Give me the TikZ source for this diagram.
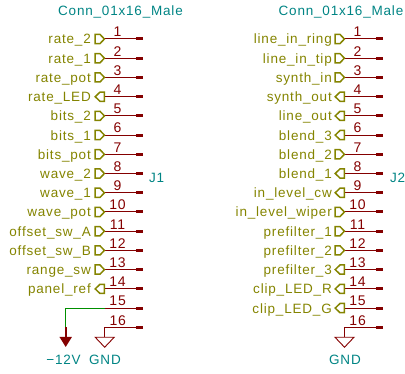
\documentclass[tikz,border=0pt]{standalone}
\usepackage{fontspec}
\setmainfont{Liberation Sans}[LetterSpace=6]
\usetikzlibrary{arrows.meta,shapes.geometric}
\definecolor{netcol}{HTML}{848400}
\definecolor{wirecol}{HTML}{840000}
\definecolor{refcol}{HTML}{008484}
\definecolor{busgreen}{HTML}{008F00}
\pgfdeclarelayer{nodelayer}
\pgfdeclarelayer{edgelayer}
\pgfsetlayers{edgelayer,nodelayer,main}
\tikzstyle{reftext}=[text=refcol, inner sep=0, font=\fontsize{13.5}{15}\selectfont]
\tikzstyle{net}=[text=netcol, inner sep=0, anchor=base east, font=\fontsize{13.5}{15}\selectfont]
\tikzstyle{flag line}=[draw=netcol, line width=1.5]
\tikzstyle{pin end}=[fill=wirecol, minimum width=7, minimum height=3, inner sep=0]
\tikzstyle{wire}=[draw=wirecol, line width=1]
\tikzstyle{num}=[text=wirecol, above, pos=0.42, inner xsep=0, inner ysep=1.6, text height=10, text depth=0, font=\fontsize{14}{15}\selectfont]
\tikzstyle{gnd}=[draw=wirecol, line width=0.9, shape=isosceles triangle, shape border rotate=-90, isosceles triangle apex angle=87, minimum height=10, inner sep=0]
\tikzset{
	flag in/.pic={\draw [style=flag line] (-4.8, -4.6) -- (0, -4.6) -- (4.4, 0) -- (0, 4.6) -- (-4.8, 4.6) -- cycle;
		\coordinate (-east) at (4.4, 0);},
	flag out/.pic={\draw [style=flag line] (4.4, -4.6) -- (0, -4.6) -- (-4.8, 0) -- (0, 4.6) -- (4.4, 4.6) -- cycle;
		\coordinate (-east) at (4.4, 0);}
}
\begin{document}
\begin{tikzpicture}[x=1pt, y=-1pt]
	\useasboundingbox (0, 0) rectangle (405, 374);
	\begin{pgfonlayer}{nodelayer}
		\node [style=reftext, anchor=base] (title1) at (120.5, 15.6) {Conn\_01x16\_Male};
		\node [style=reftext, anchor=base] (title2) at (341, 15.6) {Conn\_01x16\_Male};
		\node [style=reftext, anchor=base west] (j1) at (149, 183) {J1};
		\node [style=reftext, anchor=base west] (j2) at (390, 183) {J2};
		\node [style=net] (na1) at (91, 44) {rate\_2};
		\node [style=net] (na2) at (91, 63.2) {rate\_1};
		\node [style=net] (na3) at (91, 82.4) {rate\_pot};
		\node [style=net] (na4) at (91, 101.7) {rate\_LED};
		\node [style=net] (na5) at (91, 120.9) {bits\_2};
		\node [style=net] (na6) at (91, 140.1) {bits\_1};
		\node [style=net] (na7) at (91, 159.3) {bits\_pot};
		\node [style=net] (na8) at (91, 178.5) {wave\_2};
		\node [style=net] (na9) at (91, 197.8) {wave\_1};
		\node [style=net] (na10) at (91, 217) {wave\_pot};
		\node [style=net] (na11) at (91, 236.2) {offset\_sw\_A};
		\node [style=net] (na12) at (91, 255.4) {offset\_sw\_B};
		\node [style=net] (na13) at (91, 274.6) {range\_sw};
		\node [style=net] (na14) at (91, 293.9) {panel\_ref};
		\pic (a1) at (100, 39) {flag in};
		\pic (a2) at (100, 58.2) {flag in};
		\pic (a3) at (100, 77.4) {flag in};
		\pic (a4) at (100, 96.7) {flag out};
		\pic (a5) at (100, 115.9) {flag in};
		\pic (a6) at (100, 135.1) {flag in};
		\pic (a7) at (100, 154.3) {flag in};
		\pic (a8) at (100, 173.5) {flag in};
		\pic (a9) at (100, 192.8) {flag in};
		\pic (a10) at (100, 212) {flag in};
		\pic (a11) at (100, 231.2) {flag in};
		\pic (a12) at (100, 250.4) {flag in};
		\pic (a13) at (100, 269.6) {flag in};
		\pic (a14) at (100, 288.9) {flag out};
		\node [style=pin end] (ap1) at (139.5, 39) {};
		\node [style=pin end] (ap2) at (139.5, 58.2) {};
		\node [style=pin end] (ap3) at (139.5, 77.4) {};
		\node [style=pin end] (ap4) at (139.5, 96.7) {};
		\node [style=pin end] (ap5) at (139.5, 115.9) {};
		\node [style=pin end] (ap6) at (139.5, 135.1) {};
		\node [style=pin end] (ap7) at (139.5, 154.3) {};
		\node [style=pin end] (ap8) at (139.5, 173.5) {};
		\node [style=pin end] (ap9) at (139.5, 192.8) {};
		\node [style=pin end] (ap10) at (139.5, 212) {};
		\node [style=pin end] (ap11) at (139.5, 231.2) {};
		\node [style=pin end] (ap12) at (139.5, 250.4) {};
		\node [style=pin end] (ap13) at (139.5, 269.6) {};
		\node [style=pin end] (ap14) at (139.5, 288.9) {};
		\node [style=pin end] (ap15) at (139.5, 308.1) {};
		\node [style=pin end] (ap16) at (139.5, 327.3) {};
		\node [style=net] (nb1) at (332, 44) {line\_in\_ring};
		\node [style=net] (nb2) at (332, 63.2) {line\_in\_tip};
		\node [style=net] (nb3) at (332, 82.4) {synth\_in};
		\node [style=net] (nb4) at (332, 101.7) {synth\_out};
		\node [style=net] (nb5) at (332, 120.9) {line\_out};
		\node [style=net] (nb6) at (332, 140.1) {blend\_3};
		\node [style=net] (nb7) at (332, 159.3) {blend\_2};
		\node [style=net] (nb8) at (332, 178.5) {blend\_1};
		\node [style=net] (nb9) at (332, 197.8) {in\_level\_cw};
		\node [style=net] (nb10) at (332, 217) {in\_level\_wiper};
		\node [style=net] (nb11) at (332, 236.2) {prefilter\_1};
		\node [style=net] (nb12) at (332, 255.4) {prefilter\_2};
		\node [style=net] (nb13) at (332, 274.6) {prefilter\_3};
		\node [style=net] (nb14) at (332, 293.9) {clip\_LED\_R};
		\node [style=net] (nb15) at (332, 313.1) {clip\_LED\_G};
		\pic (b1) at (340, 39) {flag in};
		\pic (b2) at (340, 58.2) {flag in};
		\pic (b3) at (340, 77.4) {flag in};
		\pic (b4) at (340, 96.7) {flag out};
		\pic (b5) at (340, 115.9) {flag out};
		\pic (b6) at (340, 135.1) {flag out};
		\pic (b7) at (340, 154.3) {flag in};
		\pic (b8) at (340, 173.5) {flag out};
		\pic (b9) at (340, 192.8) {flag out};
		\pic (b10) at (340, 212) {flag in};
		\pic (b11) at (340, 231.2) {flag in};
		\pic (b12) at (340, 250.4) {flag in};
		\pic (b13) at (340, 269.6) {flag out};
		\pic (b14) at (340, 288.9) {flag out};
		\pic (b15) at (340, 308.1) {flag out};
		\node [style=pin end] (bp1) at (379.5, 39) {};
		\node [style=pin end] (bp2) at (379.5, 58.2) {};
		\node [style=pin end] (bp3) at (379.5, 77.4) {};
		\node [style=pin end] (bp4) at (379.5, 96.7) {};
		\node [style=pin end] (bp5) at (379.5, 115.9) {};
		\node [style=pin end] (bp6) at (379.5, 135.1) {};
		\node [style=pin end] (bp7) at (379.5, 154.3) {};
		\node [style=pin end] (bp8) at (379.5, 173.5) {};
		\node [style=pin end] (bp9) at (379.5, 192.8) {};
		\node [style=pin end] (bp10) at (379.5, 212) {};
		\node [style=pin end] (bp11) at (379.5, 231.2) {};
		\node [style=pin end] (bp12) at (379.5, 250.4) {};
		\node [style=pin end] (bp13) at (379.5, 269.6) {};
		\node [style=pin end] (bp14) at (379.5, 288.9) {};
		\node [style=pin end] (bp15) at (379.5, 308.1) {};
		\node [style=pin end] (bp16) at (379.5, 327.3) {};
		\node [style=gnd, anchor=lower side] (gnd1) at (104.7, 336.8) {};
		\node [style=gnd, anchor=lower side] (gnd2) at (344.5, 336.8) {};
		\node [style=reftext, anchor=base] (gndtext1) at (105, 365) {GND};
		\node [style=reftext, anchor=base] (gndtext2) at (345, 365) {GND};
		\node [style=reftext, anchor=base] (vneg) at (63.5, 365) {−12V};
		\coordinate (a15) at (104.5, 308.1);
		\coordinate (bend) at (65.7, 308.1);
		\coordinate (vtop) at (65.7, 327.3);
		\coordinate (vtip) at (65.7, 347);
		\coordinate (a16) at (104.7, 327.3);
		\coordinate (b16) at (344.5, 327.3);
	\end{pgfonlayer}
	\begin{pgfonlayer}{edgelayer}
		\draw [style=wire] (a1-east) to node [style=num] {1} (ap1);
		\draw [style=wire] (a2-east) to node [style=num] {2} (ap2);
		\draw [style=wire] (a3-east) to node [style=num] {3} (ap3);
		\draw [style=wire] (a4-east) to node [style=num] {4} (ap4);
		\draw [style=wire] (a5-east) to node [style=num] {5} (ap5);
		\draw [style=wire] (a6-east) to node [style=num] {6} (ap6);
		\draw [style=wire] (a7-east) to node [style=num] {7} (ap7);
		\draw [style=wire] (a8-east) to node [style=num] {8} (ap8);
		\draw [style=wire] (a9-east) to node [style=num] {9} (ap9);
		\draw [style=wire] (a10-east) to node [style=num] {10} (ap10);
		\draw [style=wire] (a11-east) to node [style=num] {11} (ap11);
		\draw [style=wire] (a12-east) to node [style=num] {12} (ap12);
		\draw [style=wire] (a13-east) to node [style=num] {13} (ap13);
		\draw [style=wire] (a14-east) to node [style=num] {14} (ap14);
		\draw [style=wire] (a15) to node [style=num] {15} (ap15);
		\draw [style=wire] (a16) to node [style=num] {16} (ap16);
		\draw [style=wire] (a16) to (gnd1.lower side);
		\draw [draw=busgreen, line width=0.9] (a15) to (bend) to (vtop);
		\draw [draw=wirecol, line width=1.6, -{Triangle[width=12, length=10]}] (vtop) to (vtip);
		\draw [style=wire] (b1-east) to node [style=num] {1} (bp1);
		\draw [style=wire] (b2-east) to node [style=num] {2} (bp2);
		\draw [style=wire] (b3-east) to node [style=num] {3} (bp3);
		\draw [style=wire] (b4-east) to node [style=num] {4} (bp4);
		\draw [style=wire] (b5-east) to node [style=num] {5} (bp5);
		\draw [style=wire] (b6-east) to node [style=num] {6} (bp6);
		\draw [style=wire] (b7-east) to node [style=num] {7} (bp7);
		\draw [style=wire] (b8-east) to node [style=num] {8} (bp8);
		\draw [style=wire] (b9-east) to node [style=num] {9} (bp9);
		\draw [style=wire] (b10-east) to node [style=num] {10} (bp10);
		\draw [style=wire] (b11-east) to node [style=num] {11} (bp11);
		\draw [style=wire] (b12-east) to node [style=num] {12} (bp12);
		\draw [style=wire] (b13-east) to node [style=num] {13} (bp13);
		\draw [style=wire] (b14-east) to node [style=num] {14} (bp14);
		\draw [style=wire] (b15-east) to node [style=num] {15} (bp15);
		\draw [style=wire] (b16) to node [style=num] {16} (bp16);
		\draw [style=wire] (b16) to (gnd2.lower side);
	\end{pgfonlayer}
\end{tikzpicture}
\end{document}
